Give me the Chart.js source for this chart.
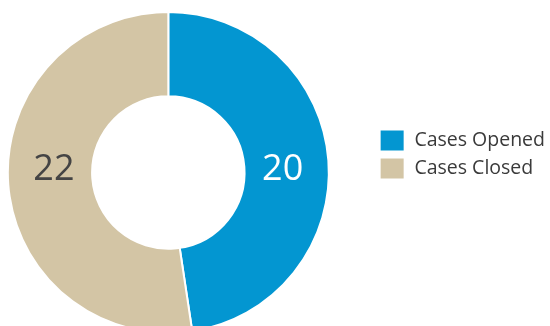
<!DOCTYPE html>
<html>
<head>
<meta charset="utf-8">
<script src="https://cdn.jsdelivr.net/npm/chart.js@4/dist/chart.umd.min.js"></script>
<style>
  html, body { margin: 0; padding: 0; background: #fff; overflow: hidden; }
  #wrap { width: 592px; height: 334px; margin-left: -37px; position: relative; }
</style>
</head>
<body>
<div id="wrap"><canvas id="donutChart"></canvas></div>
<script>
var labels = ['Cases Opened', 'Cases Closed'];
var caseCounts = [20, 22];
var sliceColors = ['#0396d1', '#d3c5a5'];
var valueColors = ['#ffffff', '#444444'];

// writes the value of each slice across the middle of the ring
var sliceValues = {
    id: 'sliceValues',
    afterDatasetsDraw: function(chart) {
        var c = chart.ctx;
        var meta = chart.getDatasetMeta(0);
        c.save();
        c.font = '36px "Open Sans"';
        c.textAlign = 'center';
        c.textBaseline = 'middle';
        meta.data.forEach(function(arc, i) {
            var p = arc.getProps(['x', 'y', 'startAngle', 'endAngle', 'innerRadius', 'outerRadius'], true);
            var mid = (p.startAngle + p.endAngle) / 2;
            var r = (p.innerRadius + p.outerRadius) / 2;
            var side = Math.cos(mid) >= 0 ? 1 : -1;
            c.fillStyle = valueColors[i];
            c.fillText(caseCounts[i], p.x + side * (r - 4), p.y - 3);
        });
        c.restore();
    }
};

// legend sits a bit above the middle of the chart
var legendShift = {
    id: 'legendShift',
    afterLayout: function(chart) {
        chart.legend.top -= 18;
        chart.legend.bottom -= 18;
    }
};

var ctx = document.getElementById('donutChart').getContext('2d');
var myChart = new Chart(ctx, {
    type: 'doughnut',
    data: {
        labels: labels,
        datasets: [{
            data: caseCounts,
            backgroundColor: sliceColors,
            borderColor: '#ffffff',
            borderWidth: 2,
            hoverOffset: 0
        }]
    },
    options: {
        responsive: true,
        maintainAspectRatio: false,
        animation: false,
        cutout: '47.5%',
        layout: {
            padding: { top: 11, left: 0, right: 0, bottom: 0 }
        },
        plugins: {
            legend: {
                position: 'right',
                labels: {
                    boxWidth: 25,
                    boxHeight: 22,
                    padding: 6,
                    color: '#3a3a3a',
                    font: { family: '"Open Sans"', size: 19.5, lineHeight: 1 }
                }
            },
            tooltip: { enabled: false }
        }
    },
    plugins: [sliceValues, legendShift]
});
</script>
</body>
</html>
